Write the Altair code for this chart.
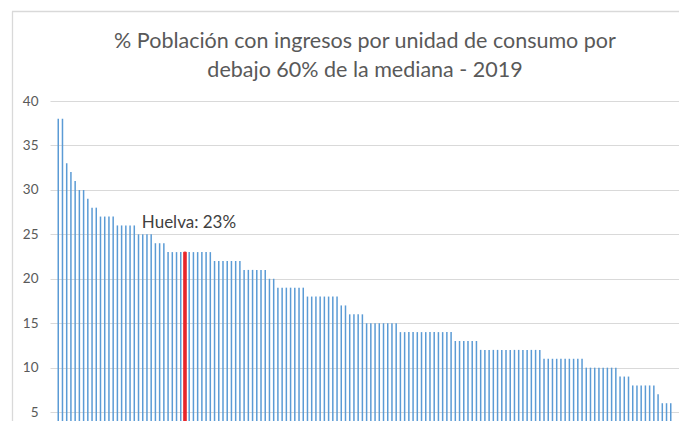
import altair as alt
import pandas as pd

# --- data (sorted descending) ---
values = [
    38, 38, 33, 32, 31, 30, 30, 29, 28, 28,
    27, 27, 27, 27, 26, 26, 26, 26, 26, 25,
    25, 25, 25, 24, 24, 24, 23, 23, 23, 23,
    23, 23, 23, 23, 23, 23, 23, 22, 22, 22,
    22, 22, 22, 22, 21, 21, 21, 21, 21, 21,
    20, 20, 19, 19, 19, 19, 19, 19, 19, 18,
    18, 18, 18, 18, 18, 18, 18, 17, 17, 16,
    16, 16, 16, 15, 15, 15, 15, 15, 15, 15,
    15, 14, 14, 14, 14, 14, 14, 14, 14, 14,
    14, 14, 14, 14, 13, 13, 13, 13, 13, 13,
    12, 12, 12, 12, 12, 12, 12, 12, 12, 12,
    12, 12, 12, 12, 12, 11, 11, 11, 11, 11,
    11, 11, 11, 11, 11, 10, 10, 10, 10, 10,
    10, 10, 10, 9, 9, 9, 8, 8, 8, 8,
    8, 8, 7, 6, 6, 6,
]
highlight_index = 30
highlight_label = "Huelva: 23%"
title_line1 = "% Población con ingresos por unidad de consumo por"
title_line2 = "debajo 60% de la mediana - 2019"
y_ticks = [5, 10, 15, 20, 25, 30, 35, 40]
y_domain = [4, 40]

df = pd.DataFrame({"idx": list(range(len(values))), "value": values})
df["label"] = ""
df.loc[highlight_index, "label"] = highlight_label

W, H = 629, 320
n = len(values)
pad = 0.77
x_enc = alt.X("idx:Q", axis=None,
              scale=alt.Scale(domain=[-pad, n - 1 + pad], nice=False, zero=False))

base = alt.Chart(df).encode(x=x_enc)

y_axis = alt.Axis(values=y_ticks, grid=True, gridColor="#D9D9D9", gridWidth=1,
                  domain=False, ticks=False, labelPadding=12, labelFont="Lato",
                  labelFontSize=13.5, labelColor="#595959", title=None)

bars = base.transform_filter(alt.datum.idx != highlight_index).mark_bar(
    size=1.5, color="#5B9BD5", clip=True
).encode(
    y=alt.Y("value:Q", scale=alt.Scale(domain=y_domain, nice=False, zero=False), axis=y_axis),
    y2=alt.Y2(datum=0),
)

red = base.transform_filter(alt.datum.idx == highlight_index).mark_bar(
    size=2.5, color="#E8262A", stroke="#E8262A", strokeWidth=1, clip=True
).encode(y="value:Q", y2=alt.Y2(datum=0))

label = base.transform_filter(alt.datum.idx == highlight_index).mark_text(
    dy=-24, dx=4, font="Lato", fontSize=17, color="#404040", baseline="alphabetic", align="center"
).encode(y="value:Q", text="label:N")

frame = alt.Data(values=[{}])
border_left = alt.Chart(frame).mark_rule(color="#D9D9D9", strokeWidth=1.3).encode(
    x=alt.value(-37.5), y=alt.value(-89.5), y2=alt.value(H)
)
border_top = alt.Chart(frame).mark_rule(color="#D9D9D9", strokeWidth=1.3).encode(
    x=alt.value(-38), x2=alt.value(W), y=alt.value(-89.5)
)

title_style = dict(font="Lato", fontSize=21.5, color="#595959", align="center",
                   baseline="alphabetic")
title1 = alt.Chart(frame).mark_text(text=title_line1, **title_style).encode(
    x=alt.value(315), y=alt.value(-52.7)
)
title2 = alt.Chart(frame).mark_text(text=title_line2, **title_style).encode(
    x=alt.value(315), y=alt.value(-23.7)
)

chart = alt.layer(border_left, border_top, title1, title2, bars, red, label).properties(
    width=W,
    height=H,
    padding={"left": 42, "top": 93, "right": 0, "bottom": 0},
    autosize=alt.AutoSizeParams(type="none"),
    background="white",
).configure_view(strokeWidth=0)

chart.save("out.html", embed_options={"renderer": "svg", "actions": False})
